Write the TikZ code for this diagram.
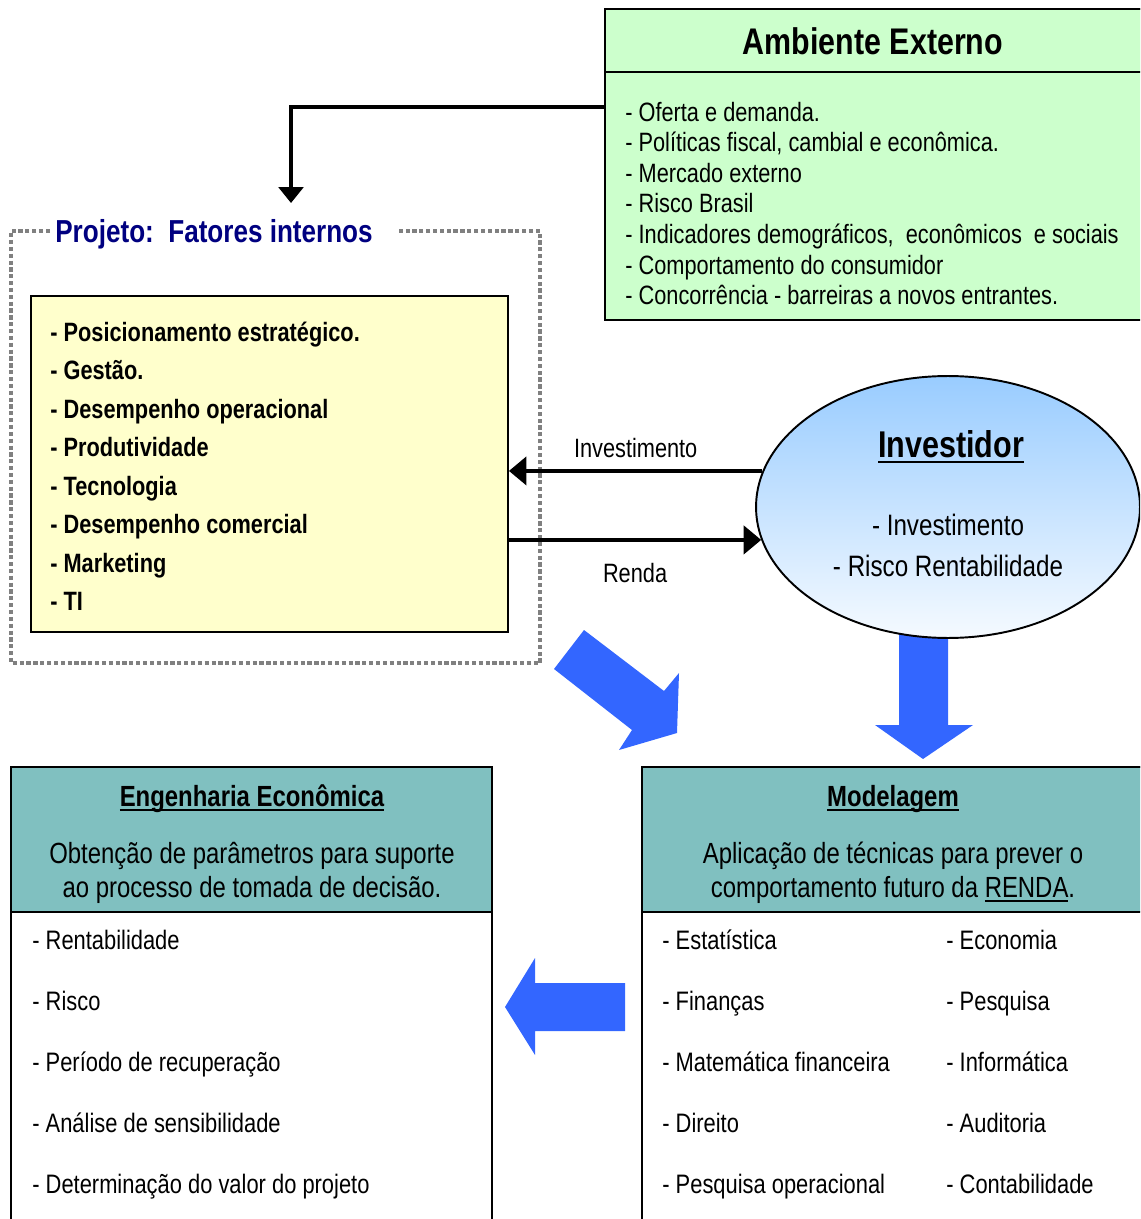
\documentclass[tikz,border=0pt]{standalone}
\usepackage{fontspec}
\setmainfont{Liberation Sans}[FakeStretch=0.82]
\usetikzlibrary{arrows.meta,shapes.geometric}

\definecolor{extgreen}{HTML}{CCFFCC}
\definecolor{fatyellow}{HTML}{FFFFCC}
\definecolor{headteal}{HTML}{80C0C0}
\definecolor{bigblue}{HTML}{3366FF}
\definecolor{invtop}{HTML}{99CCFF}
\definecolor{invbottom}{HTML}{F5FAFF}
\definecolor{projblue}{HTML}{000080}

\newcommand\fsz[2]{\fontsize{#1}{#2}\selectfont}
\newcommand\undl[1]{\setbox0=\hbox{#1}\rlap{\vrule width\wd0 height -.1em depth .17em}\box0}

\begin{document}
\begin{tikzpicture}[x=0.02cm, y=-0.02cm,
        box/.style={rectangle, draw=black, line width=1.1pt, inner sep=0pt},
        dotframe/.style={draw=gray, line width=2pt, dash pattern=on 2.4pt off 1.5pt},
        linkarrow/.style={-{Triangle[length=9pt, width=14pt]}, line width=1.9pt},
        flowarrow/.style={-{Triangle[length=10pt, width=16pt]}, line width=2.4pt},
        bigarrow/.style={fill=bigblue},
        title/.style={anchor=base, inner sep=0pt, font=\fsz{16.6}{20}\bfseries},
        desc/.style={anchor=base, inner sep=0pt, align=center, font=\fsz{16.6}{19.3}},
        txt/.style={anchor=base west, inner sep=0pt, align=left},
        lbl/.style={inner sep=0pt, font=\fsz{15.1}{18}}
    ]
    \useasboundingbox (0,0) rectangle (1140,1219);
    \clip (0,0) rectangle (1140,1219);

    % projeto (base = last line)
    \draw[dotframe] (50,231) -- (11,231) -- (11,663) -- (540,663) -- (540,231) -- (397,231);
    \node[anchor=base west, inner sep=0pt, text=projblue, font=\fsz{18.1}{22}\bfseries] (projTitle) at (55,242.5) {Projeto:\ \ Fatores internos};
    \node[box, fill=fatyellow, minimum width=9.54cm, minimum height=6.72cm] (fat) at (269.5,464) {};
    \node[txt, font=\fsz{15.1}{21.9}\bfseries] (fatList) at (50,610.7) {- Posicionamento estratégico.\\- Gestão.\\- Desempenho operacional\\- Produtividade\\- Tecnologia\\- Desempenho comercial\\- Marketing\\- TI};

    % ambiente externo
    \node[box, fill=extgreen, minimum width=10.9cm, minimum height=6.22cm] (amb) at (877.5,164.5) {};
    \node[box, fill=extgreen, minimum width=10.9cm, minimum height=1.26cm] (ambHead) at (877.5,40.5) {};
    \node[title, font=\fsz{21.1}{25}\bfseries] (ambTitle) at (873,55) {Ambiente Externo};
    \node[txt, font=\fsz{15.1}{17.4}] (ambList) at (625,304.7) {- Oferta e demanda.\\- Políticas fiscal, cambial e econômica.\\- Mercado externo\\- Risco Brasil\\- Indicadores demográficos,\ \ econômicos\ \ e sociais\\- Comportamento do consumidor\\- Concorrência - barreiras a novos entrantes.};

    \coordinate (ambOut) at (605,107);
    \coordinate (projIn) at (291,203);
    \draw[linkarrow] (ambOut) -| (projIn);

    % investidor
    \fill[bigarrow] (899,630) -- (948,630) -- (948,725) -- (973,725) -- (923,759) -- (875,725) -- (899,725) -- cycle;
    \node[ellipse, draw=black, line width=1.1pt, inner sep=0pt, top color=invtop, bottom color=invbottom, minimum width=7.68cm, minimum height=5.24cm] (inv) at (948,507) {};
    \node[title, font=\fsz{21.2}{25}\bfseries] (invTitle) at (951,457) {\undl{Investidor}};
    \node[desc, font=\fsz{16.8}{23.2}] (invList) at (948,576) {- Investimento\\- Risco Rentabilidade};

    \draw[flowarrow] (inv.169) -- (inv.169 -| fat.east) node[lbl, midway, above=6.5pt] {Investimento};
    \draw[flowarrow] (fat.east |- inv.190) -- (inv.190) node[lbl, midway, below=12pt] {Renda};

    % setas azuis
    \fill[bigarrow] (584,630) -- (664,691) -- (679,673) -- (677,733) -- (619,750) -- (632,730) -- (554,669) -- cycle;
    \fill[bigarrow] (625,983) -- (535,983) -- (535,958) -- (505,1007) -- (535,1055) -- (535,1031) -- (625,1031) -- cycle;

    % engenharia economica
    \node[box, minimum width=9.62cm, minimum height=9.66cm] (engBox) at (251.5,1008.5) {};
    \node[box, fill=headteal, minimum width=9.62cm, minimum height=2.9cm] (engHead) at (251.5,839.5) {};
    \node[title] (engTitle) at (252,806.5) {\undl{Engenharia Econômica}};
    \node[desc] (engDesc) at (252,897.5) {Obtenção de parâmetros para suporte\\ao processo de tomada de decisão.};
    \node[txt, font=\fsz{15.2}{34.6}] (engList) at (32,1193) {- Rentabilidade\\- Risco\\- Período de recuperação\\- Análise de sensibilidade\\- Determinação do valor do projeto};

    % modelagem
    \node[box, minimum width=10.16cm, minimum height=9.66cm] (modBox) at (896,1008.5) {};
    \node[box, fill=headteal, minimum width=10.16cm, minimum height=2.9cm] (modHead) at (896,839.5) {};
    \node[title] (modTitle) at (893,806.5) {\undl{Modelagem}};
    \node[desc] (modDesc) at (893,897.5) {Aplicação de técnicas para prever o\\comportamento futuro da \undl{RENDA}.};
    \node[txt, font=\fsz{15.2}{34.6}] (modListA) at (662,1193) {- Estatística\\- Finanças\\- Matemática financeira\\- Direito\\- Pesquisa operacional};
    \node[txt, font=\fsz{15.2}{34.6}] (modListB) at (946,1193) {- Economia\\- Pesquisa\\- Informática\\- Auditoria\\- Contabilidade};

\end{tikzpicture}
\end{document}
